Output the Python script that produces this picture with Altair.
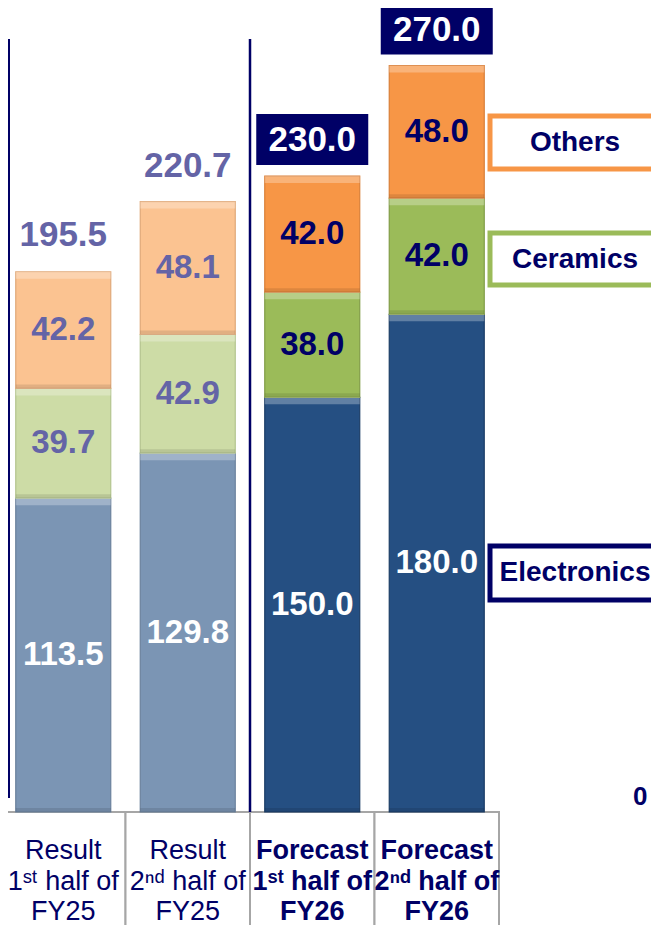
import altair as alt
import pandas as pd

periods = ["R1", "R2", "F1", "F2"]
kinds = ["Result", "Result", "Forecast", "Forecast"]
segments = ["Electronics", "Ceramics", "Others"]
electronics = [113.5, 129.8, 150.0, 180.0]
ceramics = [39.7, 42.9, 38.0, 42.0]
others = [42.2, 48.1, 42.0, 48.0]
totals = [195.5, 220.7, 230.0, 270.0]
label_line1 = ["Result", "Result", "Forecast", "Forecast"]
label_line2 = ["1ˢᵗ half of", "2ⁿᵈ half of", "1ˢᵗ half of", "2ⁿᵈ half of"]
label_line3 = ["FY25", "FY25", "FY26", "FY26"]
legend_names = ["Others", "Ceramics", "Electronics"]

FONT = "Liberation Sans, Arial, DejaVu Sans, sans-serif"
NAVY = "#000066"
SLATE = "#6464a6"

rows = []
for i, p in enumerate(periods):
    base = 0.0
    for seg, vals in zip(segments, [electronics, ceramics, others]):
        v = vals[i]
        rows.append({"period": p, "kind": kinds[i], "segment": seg,
                     "key": kinds[i] + "-" + seg, "value": v,
                     "start": base, "end": base + v, "mid": base + v / 2,
                     "label": f"{v:.1f}"})
        base += v
seg_df = pd.DataFrame(rows)

tot_df = pd.DataFrame({"period": periods, "kind": kinds, "total": totals,
                       "label": [f"{t:.1f}" for t in totals],
                       "l1": label_line1, "l2": label_line2, "l3": label_line3})

keys = ["Result-Electronics", "Result-Ceramics", "Result-Others",
        "Forecast-Electronics", "Forecast-Ceramics", "Forecast-Others"]
fills = ["#7b95b4", "#cddca6", "#fbc391", "#254f82", "#9bbb59", "#f79646"]
strokes = ["#6a819c", "#b3c48e", "#e0a878", "#1b3d66", "#819c47", "#d97f38"]
txtcols = ["#ffffff", SLATE, SLATE, "#ffffff", NAVY, NAVY]

xscale = alt.Scale(domain=periods, range=[-7, 491], paddingInner=0.237, paddingOuter=0.1185)
yscale = alt.Scale(domain=[0, 290.8], range=[804, 0], nice=False, zero=False)
X = alt.X("period:N", scale=xscale, axis=None)
XC = alt.X("period:N", scale=xscale, axis=None, bandPosition=0.5)

# table cells
cells = alt.Chart(tot_df).mark_bar(width=124.5, fill="white", stroke="#a6a6a6", strokeWidth=2).encode(
    x=X, y=alt.value(804), y2=alt.value(940))

one = pd.DataFrame({"a": [0]})
rule1 = alt.Chart(one).mark_rule(color=NAVY, strokeWidth=2).encode(
    x=alt.value(1), y=alt.value(31), y2=alt.value(790))
rule2 = alt.Chart(one).mark_rule(color=NAVY, strokeWidth=2.5).encode(
    x=alt.value(242), y=alt.value(31), y2=alt.value(804))

bars = alt.Chart(seg_df).mark_bar(strokeWidth=1.2).encode(
    x=X,
    y=alt.Y("start:Q", scale=yscale, axis=None),
    y2="end:Q",
    fill=alt.Fill("key:N", scale=alt.Scale(domain=keys, range=fills), legend=None),
    stroke=alt.Stroke("key:N", scale=alt.Scale(domain=keys, range=strokes), legend=None),
)
hilite = alt.Chart(seg_df).mark_bar(fill="white", opacity=0.28, y2Offset=7).encode(
    x=X, y=alt.Y("end:Q", scale=yscale, axis=None), y2="end:Q")
shade = alt.Chart(seg_df).mark_bar(fill="black", opacity=0.1, y2Offset=-4).encode(
    x=X, y=alt.Y("start:Q", scale=yscale, axis=None), y2="start:Q")

seg_labels = alt.Chart(seg_df).mark_text(font=FONT, fontSize=33, fontWeight="bold", baseline="middle").encode(
    x=XC,
    y=alt.Y("mid:Q", scale=yscale, axis=None),
    text="label:N",
    color=alt.Color("key:N", scale=alt.Scale(domain=keys, range=txtcols), legend=None),
)

res_tot = alt.Chart(tot_df).transform_filter(alt.datum.kind == "Result").mark_text(
    font=FONT, fontSize=35, fontWeight="bold", color=SLATE, baseline="alphabetic", dy=-25).encode(
    x=XC, y=alt.Y("total:Q", scale=yscale, axis=None), text="label:N")

fc_box = alt.Chart(tot_df).transform_filter(alt.datum.kind == "Forecast").mark_bar(
    width=112, color=NAVY, yOffset=-11, y2Offset=-62).encode(
    x=X, y=alt.Y("total:Q", scale=yscale, axis=None), y2="total:Q")
fc_tot = alt.Chart(tot_df).transform_filter(alt.datum.kind == "Forecast").mark_text(
    font=FONT, fontSize=35, fontWeight="bold", color="white", baseline="middle", dy=-36).encode(
    x=XC, y=alt.Y("total:Q", scale=yscale, axis=None), text="label:N")

# table text
def table_text(kind, weight):
    base = alt.Chart(tot_df).transform_filter(alt.datum.kind == kind)
    layers = []
    for field, ypos in [("l1", 843), ("l2", 874), ("l3", 904)]:
        layers.append(base.mark_text(font=FONT, fontSize=27, fontWeight=weight, color=NAVY,
                                     baseline="middle").encode(
            x=XC, y=alt.value(ypos), text=f"{field}:N"))
    return layers

# legend boxes
leg_df = pd.DataFrame({"name": legend_names})
leg_specs = [("Others", "#f79646", 108, 161, 135),
             ("Ceramics", "#9bbb59", 225, 277, 252),
             ("Electronics", NAVY, 538, 592, 565)]
leg_layers = []
for name, col, y0, y1, ty in leg_specs:
    d = alt.Chart(leg_df).transform_filter(alt.datum.name == name)
    leg_layers.append(d.mark_rect(fill="white", stroke=col, strokeWidth=5).encode(
        x=alt.value(482), x2=alt.value(660), y=alt.value(y0), y2=alt.value(y1)))
    leg_layers.append(d.mark_text(font=FONT, fontSize=28, fontWeight="bold", color=NAVY,
                                  baseline="middle", align="center").encode(
        x=alt.value(567), y=alt.value(ty), text="name:N"))

zero_lbl = alt.Chart(pd.DataFrame({"t": ["0"]})).mark_text(
    font=FONT, fontSize=26, fontWeight="bold", color=NAVY, align="left", baseline="alphabetic").encode(
    x=alt.value(625), y=alt.value(797), text="t:N")

chart = alt.layer(
    cells, rule1, rule2, bars, hilite, shade, seg_labels, res_tot, fc_box, fc_tot,
    *table_text("Result", "normal"), *table_text("Forecast", "bold"),
    *leg_layers, zero_lbl,
).properties(
    width=643, height=917, padding=0, autosize=alt.AutoSizeParams(type="none")
).configure_view(stroke=None)

chart.save("out.html", embed_options={"renderer": "svg", "actions": False})
